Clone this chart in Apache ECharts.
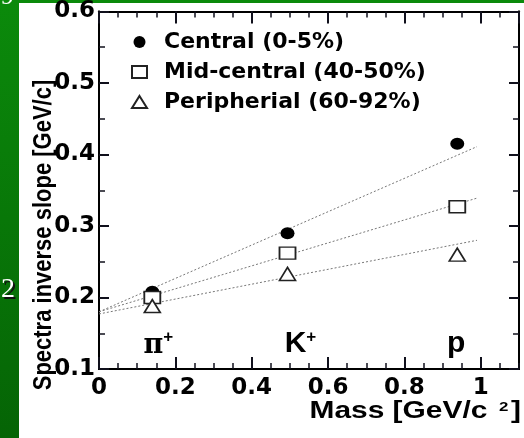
<!DOCTYPE html>
<html><head><meta charset="utf-8">
<script src="https://cdn.jsdelivr.net/npm/echarts@6/dist/echarts.min.js"></script>
<style>
html,body{margin:0;padding:0;}
body{background:linear-gradient(#0b8a0b,#056405);width:524px;height:438px;position:relative;overflow:hidden;}
#paper{position:absolute;left:19px;top:3px;width:505px;height:435px;background:#fff;}
#c{position:absolute;left:0;top:0;width:524px;height:438px;}
</style>
</head><body><div id="paper"></div><div id="c"></div>
<script>
// ---- data ----
const seriesNames = ['Central (0-5%)', 'Mid-central (40-50%)', 'Peripherial (60-92%)'];
const masses = [0.1396, 0.4937, 0.9383];            // π+, K+, p  [GeV/c^2]
const particleLabels = ['pi', 'K', 'p'];
const particleLabelY = [0.135, 0.135, 0.135];
const centralSlopes = [0.208, 0.290, 0.415];
const midCentralSlopes = [0.200, 0.262, 0.327];
const peripheralSlopes = [0.188, 0.233, 0.260];
const fitX = [0, 0.99];
const centralFit = [0.180, 0.411];
const midCentralFit = [0.180, 0.339];
const peripheralFit = [0.177, 0.280];
const xTickLabels = ['0', '0.2', '0.4', '0.6', '0.8', '1'];
const yTickLabels = ['0.1', '0.2', '0.3', '0.4', '0.5', '0.6'];

const FONT = 'Liberation Sans';
const WIDE = 'DejaVu Sans';
const TICK = '#10101c';
const chart = echarts.init(document.getElementById('c'), null, {renderer: 'canvas'});

const pts = ys => masses.map((m, i) => [m, ys[i]]);
const fit = ys => fitX.map((x, i) => [x, ys[i]]);

function xAx(pos, interval, len, labels, w) {
  return {
    type: 'value', position: pos, min: 0, max: 1.1, interval: interval,
    axisLine: {show: true, onZero: false, lineStyle: {color: '#000', width: 2}},
    axisTick: {show: true, inside: true, length: len, lineStyle: {color: TICK, width: w}},
    axisLabel: labels ? {show: true, showMaxLabel: false, color: '#000', fontFamily: WIDE, fontWeight: 'bold', fontSize: 23, margin: 8,
      formatter: v => { const i = Math.round(v / 0.2); return Math.abs(v - i * 0.2) < 1e-6 ? (xTickLabels[i] || '') : ''; }} : {show: false},
    splitLine: {show: false}
  };
}
function yAx(pos, interval, len, labels, w) {
  return {
    type: 'value', position: pos, min: 0.1, max: 0.6, interval: interval,
    axisLine: {show: true, onZero: false, lineStyle: {color: '#000', width: 2}},
    axisTick: {show: true, inside: true, length: len, lineStyle: {color: TICK, width: w}},
    axisLabel: labels ? {show: true, color: '#000', fontFamily: WIDE, fontWeight: 'bold', fontSize: 23, margin: 4,
      formatter: v => { const i = Math.round((v - 0.1) / 0.1); return yTickLabels[i] || ''; }} : {show: false},
    splitLine: {show: false}
  };
}

const option = {
  animation: false,
  graphic: [
    {type: 'text', left: 1, top: -16, style: {text: '9', fill: '#fff', font: '26px "Liberation Serif"'}},
    {type: 'text', left: 3, top: 278, style: {text: '2', fill: '#111', font: '28px "Liberation Serif"'}},
    {type: 'text', left: 1, top: 276, style: {text: '2', fill: '#fff', font: '28px "Liberation Serif"'}},
    {type: 'text', x: 44, y: 235, rotation: Math.PI / 2, scaleY: 1.2,
      style: {text: 'Spectra inverse slope [GeV/c]', fill: '#000', font: 'bold 22px "Liberation Sans"', align: 'center', verticalAlign: 'middle'}},
    {type: 'text', x: 521, y: 412, scaleX: 1.3,
      style: {text: '{t|Mass [GeV/c}{s|2}{t|]}', align: 'right', verticalAlign: 'middle',
        rich: {t: {fontFamily: FONT, fontWeight: 'bold', fontSize: 23, fill: '#000'},
               s: {fontFamily: FONT, fontWeight: 'bold', fontSize: 13, fill: '#000', verticalAlign: 'top', padding: [0, 2, 0, 9]}}}}
  ],
  grid: {left: 99, right: 5, top: 11, bottom: 69},
  xAxis: [xAx('bottom', 0.2, 12, true, 2), xAx('bottom', 0.05, 6, false, 1.5), xAx('top', 0.2, 12, false, 2), xAx('top', 0.05, 6, false, 1.5)],
  yAxis: [yAx('left', 0.1, 10, true, 2), yAx('left', 0.05, 6, false, 1.5), yAx('right', 0.1, 10, false, 2), yAx('right', 0.05, 6, false, 1.5)],
  legend: {
    orient: 'vertical', left: 126, top: 26, itemWidth: 15, itemHeight: 12, itemGap: 8,
    data: seriesNames,
    textStyle: {color: '#000', fontFamily: WIDE, fontWeight: 'bold', fontSize: 22, padding: [0, 0, 0, 12], lineHeight: 22}
  },
  series: [
    {name: seriesNames[0], type: 'scatter', symbol: 'circle', symbolSize: [14, 12], data: pts(centralSlopes),
      itemStyle: {color: '#000', opacity: 1}, z: 5},
    {name: seriesNames[1], type: 'scatter', symbol: 'rect', symbolSize: [16, 12], data: pts(midCentralSlopes),
      itemStyle: {color: '#fff', borderColor: '#222', borderWidth: 1.6, opacity: 1}, z: 5},
    {name: seriesNames[2], type: 'scatter', symbol: 'triangle', symbolSize: [16, 13], data: pts(peripheralSlopes),
      itemStyle: {color: '#fff', borderColor: '#222', borderWidth: 1.6, opacity: 1}, z: 5},
    ...[centralFit, midCentralFit, peripheralFit].map(f => ({
      type: 'line', data: fit(f), showSymbol: false, symbol: 'none', silent: true, z: 2,
      lineStyle: {color: '#777', width: 1, type: [2, 2]}
    })),
    {type: 'scatter', symbolSize: 0, silent: true, z: 4, itemStyle: {opacity: 1},
      data: masses.map((m, i) => ({value: [m, particleLabelY[i]], name: particleLabels[i],
        label: {offset: [[6, 0], [13, 0], [-1, 0]][i]}})),
      label: {show: true, position: 'inside', align: 'center', verticalAlign: 'middle', color: '#000', opacity: 1,
        formatter: p => p.name === 'pi' ? '{pi|π}{s|+}' : (p.name === 'K' ? '{b|K}{s|+}' : '{b|p}'),
        rich: {
          pi: {fontFamily: 'DejaVu Serif', fontWeight: 'bold', fontSize: 27, color: '#000', padding: [4, 0, 0, 0]},
          b: {fontFamily: FONT, fontWeight: 'bold', fontSize: 30, color: '#000'},
          s: {fontFamily: FONT, fontWeight: 'bold', fontSize: 17, color: '#000', verticalAlign: 'top'}
        }}}
  ]
};
chart.setOption(option);
</script></body></html>
